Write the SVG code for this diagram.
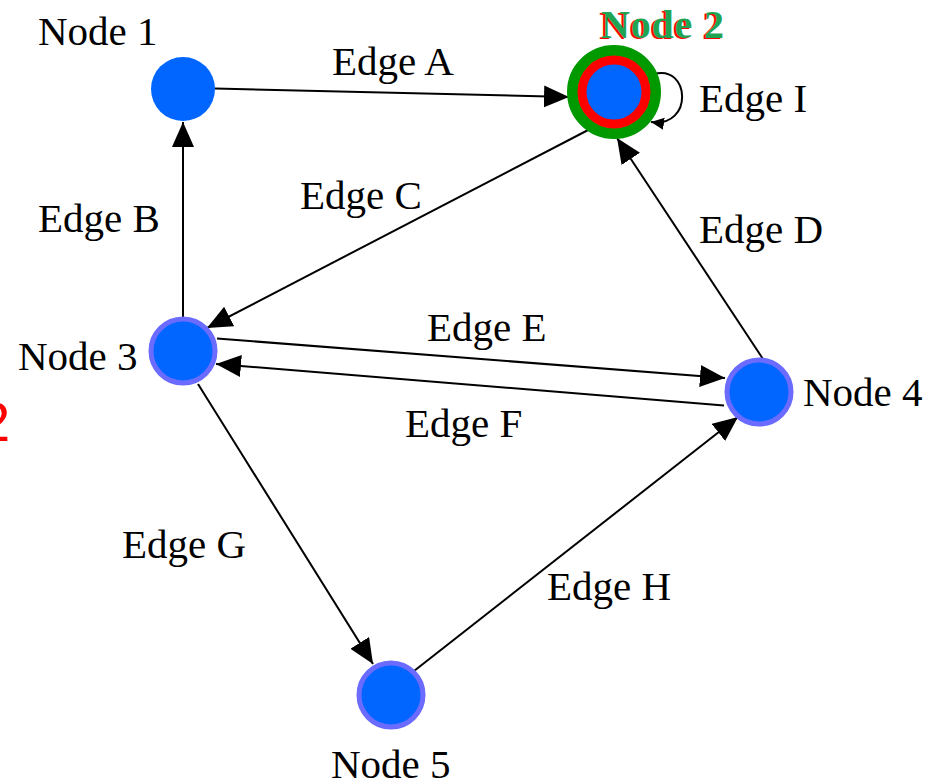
<svg xmlns="http://www.w3.org/2000/svg" width="936" height="783" viewBox="0 0 936 783">
<style>
text{font-family:"Liberation Serif","Times New Roman",serif;font-size:41px;fill:#000}
.edge{stroke:#000;stroke-width:2;fill:none}
.node{fill:#0066ff}
.ring{stroke:#6b6bff;stroke-width:5}
</style>
<defs>
<marker id="arr" markerUnits="userSpaceOnUse" markerWidth="28" markerHeight="24" refX="25" refY="11" orient="auto">
<path d="M0,0 L25,11 L0,22 z" fill="#000"/>
</marker>
<marker id="arrS" markerUnits="userSpaceOnUse" markerWidth="16" markerHeight="14" refX="13" refY="6" orient="auto">
<path d="M0,0 L13,6 L0,12 z" fill="#000"/>
</marker>
</defs>
<rect width="936" height="783" fill="#fff"/>
<text x="-21" y="441" style="font-family:'Liberation Sans',Arial,sans-serif;font-size:56px;fill:#ff0000">2</text>
<g id="connectors">
<line class="edge" x1="215" y1="88.5" x2="569" y2="97" marker-end="url(#arr)"/>
<line class="edge" x1="183" y1="317" x2="183" y2="122" marker-end="url(#arr)"/>
<line class="edge" x1="592" y1="128" x2="207" y2="328" marker-end="url(#arr)"/>
<line class="edge" x1="763" y1="359" x2="617" y2="138" marker-end="url(#arr)"/>
<line class="edge" x1="217" y1="338.5" x2="725" y2="378" marker-end="url(#arr)"/>
<line class="edge" x1="724" y1="405.5" x2="216" y2="364" marker-end="url(#arr)"/>
<line class="edge" x1="198" y1="384" x2="373" y2="664" marker-end="url(#arr)"/>
<line class="edge" x1="414" y1="671" x2="738" y2="417" marker-end="url(#arr)"/>
<path class="edge" d="M654,74 C690,64 694,128 651,122" marker-end="url(#arrS)"/>
</g>
<g id="node1">
<circle class="node" cx="183" cy="89" r="32"/>
<text x="38" y="45">Node 1</text>
</g>
<g id="node2">
<circle cx="614" cy="92" r="41.5" fill="none" stroke="#009900" stroke-width="11"/>
<circle class="node" cx="614" cy="92" r="32" stroke="#ff0000" stroke-width="9"/>
<text x="599" y="39" style="font-weight:bold;font-size:40px;fill:#ff0000" textLength="123">Node 2</text>
<text x="601" y="38" style="font-weight:bold;font-size:40px;fill:#1fa552" textLength="123">Node 2</text>
</g>
<g id="node3">
<circle class="node ring" cx="183" cy="351" r="32"/>
<text x="18" y="370">Node 3</text>
</g>
<g id="node4">
<circle class="node ring" cx="759" cy="392" r="32"/>
<text x="803" y="406">Node 4</text>
</g>
<g id="node5">
<circle class="node ring" cx="391" cy="695" r="32"/>
<text x="331" y="778">Node 5</text>
</g>
<g id="labels">
<text x="332" y="75">Edge A</text>
<text x="38" y="232">Edge B</text>
<text x="300" y="209">Edge C</text>
<text x="699" y="243">Edge D</text>
<text x="427" y="341">Edge E</text>
<text x="405" y="437">Edge F</text>
<text x="122" y="558">Edge G</text>
<text x="547" y="600">Edge H</text>
<text x="699" y="112">Edge I</text>
</g>
</svg>
